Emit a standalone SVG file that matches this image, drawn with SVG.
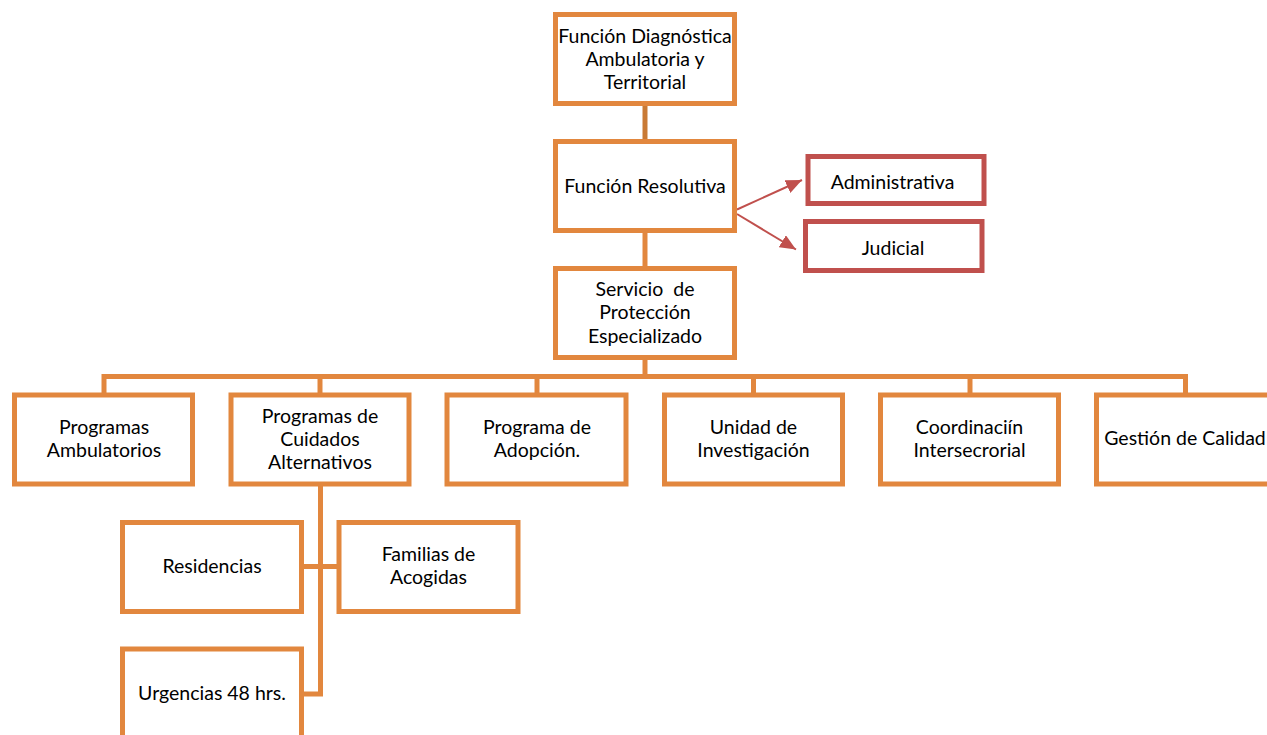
<svg xmlns="http://www.w3.org/2000/svg" width="1267" height="735" viewBox="0 0 1267 735">
<defs>
<style>
.box{fill:#fff;stroke:#e2873e;stroke-width:5;}
.rbox{fill:#fff;stroke:#c0504d;stroke-width:5;}
.ln{fill:none;stroke:#e2873e;stroke-width:5;}
.ln2{fill:none;stroke:#c97a35;stroke-width:5;}
.arr{fill:none;stroke:#c0504d;stroke-width:2;}
text{font-family:Lato,"Liberation Sans",sans-serif;font-size:19.5px;fill:#000;text-anchor:middle;white-space:pre;}
</style>
<marker id="ah2" viewBox="0 0 10 10" refX="10" refY="5" markerWidth="16" markerHeight="14" markerUnits="userSpaceOnUse" orient="auto" preserveAspectRatio="none">
<path d="M0,0 L10,5 L0,10 Z" fill="#c0504d"/>
</marker>
</defs>
<rect width="1267" height="735" fill="#fff"/>
<g id="connectors">
<line class="ln2" x1="645" y1="104" x2="645" y2="141"/>
<line class="ln" x1="645" y1="231" x2="645" y2="269"/>
<line class="ln" x1="645" y1="358" x2="645" y2="377"/>
<polyline class="ln" points="104,395 104,376.5 1185.5,376.5 1185.5,395"/>
<line class="ln" x1="320" y1="376.5" x2="320" y2="395"/>
<line class="ln" x1="537" y1="376.5" x2="537" y2="395"/>
<line class="ln" x1="753.5" y1="376.5" x2="753.5" y2="395"/>
<line class="ln" x1="970" y1="376.5" x2="970" y2="395"/>
<polyline class="ln" points="320.5,484 320.5,694 302,694"/>
<line class="ln" x1="302" y1="566.5" x2="339" y2="566.5"/>
<line class="arr" x1="737" y1="209.5" x2="802" y2="180" marker-end="url(#ah2)"/>
<line class="arr" x1="737" y1="214" x2="796" y2="249.5" marker-end="url(#ah2)"/>
</g>
<g id="n-diag">
<rect class="box" x="555.5" y="14.5" width="179" height="89"/>
<text x="645" y="42.5">Función Diagnóstica</text>
<text x="645" y="65.8">Ambulatoria y</text>
<text x="645" y="89.2">Territorial</text>
</g>
<g id="n-resol">
<rect class="box" x="555.5" y="141.5" width="179" height="89"/>
<text x="645" y="192.7">Función Resolutiva</text>
</g>
<g id="n-admin">
<rect class="rbox" x="808" y="156.5" width="176" height="47"/>
<text x="892.5" y="189.3">Administrativa</text>
</g>
<g id="n-judicial">
<rect class="rbox" x="805.5" y="221.5" width="176.5" height="49"/>
<text x="893" y="255">Judicial</text>
</g>
<g id="n-spe">
<rect class="box" x="555.5" y="268.5" width="179" height="89"/>
<text x="645" y="296">Servicio  de</text>
<text x="645" y="319.3">Protección</text>
<text x="645" y="342.7">Especializado</text>
</g>
<g id="n-amb">
<rect class="box" x="14.5" y="395" width="178" height="89"/>
<text x="104" y="434">Programas</text>
<text x="104" y="457.3">Ambulatorios</text>
</g>
<g id="n-cuid">
<rect class="box" x="231" y="395" width="178" height="89"/>
<text x="320" y="422.7">Programas de</text>
<text x="320" y="446">Cuidados</text>
<text x="320" y="469.3">Alternativos</text>
</g>
<g id="n-adop">
<rect class="box" x="447" y="395" width="179" height="89"/>
<text x="537" y="434">Programa de</text>
<text x="537" y="457.3">Adopción.</text>
</g>
<g id="n-inv">
<rect class="box" x="664.5" y="395" width="178" height="89"/>
<text x="753.5" y="434">Unidad de</text>
<text x="753.5" y="457.3">Investigación</text>
</g>
<g id="n-coord">
<rect class="box" x="880.5" y="395" width="178" height="89"/>
<text x="969.5" y="434">Coordinaciín</text>
<text x="969.5" y="457.3">Intersecrorial</text>
</g>
<g id="n-calidad">
<rect class="box" x="1096.5" y="395" width="178" height="89"/>
<text x="1185" y="445">Gestión de Calidad</text>
</g>
<g id="n-resid">
<rect class="box" x="122.5" y="522.5" width="179" height="89"/>
<text x="212" y="572.7">Residencias</text>
</g>
<g id="n-fam">
<rect class="box" x="339" y="522.5" width="179" height="89"/>
<text x="428.5" y="560.7">Familias de</text>
<text x="428.5" y="584">Acogidas</text>
</g>
<g id="n-urg">
<rect class="box" x="122.5" y="649" width="179" height="100"/>
<text x="212" y="700">Urgencias 48 hrs.</text>
</g>
</svg>
